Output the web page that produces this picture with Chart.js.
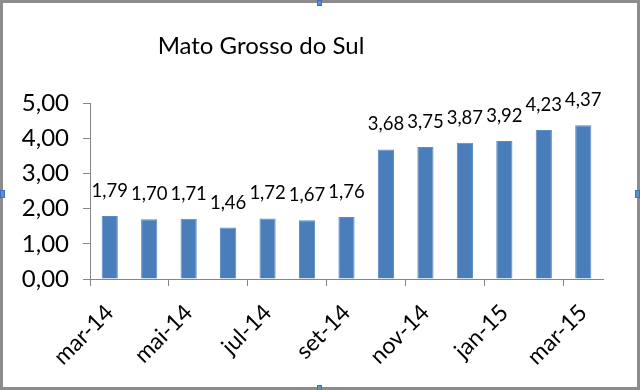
<!DOCTYPE html>
<html>
<head>
<meta charset="utf-8">
<script src="https://cdn.jsdelivr.net/npm/chart.js@4"></script>
<style>
    body { margin: 0; background: #fff; }
    #wrap { position: relative; width: 640px; height: 390px; }
    #frame {
        position: absolute; left: 0; top: 0; width: 640px; height: 390px;
        box-sizing: border-box; border: 3px solid #8c8c8c; pointer-events: none;
    }
    .handle {
        position: absolute; width: 5px; height: 6px; background: #5b8fd6;
        border: 1px solid #3f6fb5; box-sizing: border-box;
    }
</style>
</head>
<body>
<div id="wrap">
    <canvas id="mgsChart" width="640" height="390"></canvas>
    <div id="frame"></div>
    <div class="handle" style="left:317px;top:0px;"></div>
    <div class="handle" style="left:0px;top:190px;width:5px;height:8px;"></div>
    <div class="handle" style="left:635px;top:190px;width:5px;height:8px;"></div>
    <div class="handle" style="left:317px;top:385px;"></div>
</div>
<script>
const chartTitle = 'Mato Grosso do Sul';
const months = ['mar-14', 'abr-14', 'mai-14', 'jun-14', 'jul-14', 'ago-14', 'set-14',
                'out-14', 'nov-14', 'dez-14', 'jan-15', 'fev-15', 'mar-15'];
const values = [1.79, 1.70, 1.71, 1.46, 1.72, 1.67, 1.76, 3.68, 3.75, 3.87, 3.92, 4.23, 4.37];
const yTicks = [0, 1, 2, 3, 4, 5];

const fmt = v => v.toFixed(2).replace('.', ',');

// data labels above each bar (Excel "outside end") + title sitting left of centre
const barLabels = {
    id: 'barLabels',
    afterDatasetsDraw(chart) {
        const ctx = chart.ctx;
        const meta = chart.getDatasetMeta(0);
        ctx.save();
        ctx.font = '18.5px Lato';
        ctx.fillStyle = '#000000';
        ctx.textAlign = 'center';
        ctx.textBaseline = 'middle';
        meta.data.forEach((bar, i) => {
            ctx.fillText(fmt(values[i]), bar.x, bar.y - 25);
        });
        ctx.font = '24px Lato';
        ctx.fillText(chartTitle, 261, 46);
        ctx.restore();
    }
};

const axisGrey = '#868686';

new Chart(document.getElementById('mgsChart').getContext('2d'), {
    type: 'bar',
    data: {
        labels: months,
        datasets: [{
            label: chartTitle,
            data: values,
            backgroundColor: '#4a7ebb',
            borderColor: '#5b8bc6',
            borderWidth: 1,
            barPercentage: 0.82,
            categoryPercentage: 0.5
        }]
    },
    options: {
        responsive: false,
        animation: false,
        layout: { padding: { left: 0, right: 37, top: 103, bottom: 0 } },
        plugins: {
            legend: { display: false },
            tooltip: { enabled: false },
            title: { display: false }
        },
        scales: {
            x: {
                offset: true,
                grid: {
                    offset: true,
                    drawOnChartArea: false,
                    drawTicks: true,
                    tickLength: 7,
                    color: c => (c.index % 2 === 0 ? axisGrey : 'rgba(0,0,0,0)')
                },
                border: { display: true, color: axisGrey, width: 1 },
                ticks: {
                    autoSkip: false,
                    maxRotation: 45,
                    minRotation: 45,
                    padding: 13,
                    color: '#000000',
                    font: { family: 'Lato', size: 23 },
                    callback: (v, i) => (i % 2 === 0 ? months[i] : '')
                },
                afterFit: s => { s.height = 111; }
            },
            y: {
                min: 0,
                max: 5,
                afterBuildTicks: s => { s.ticks = yTicks.map(v => ({ value: v })); },
                grid: {
                    drawOnChartArea: false,
                    drawTicks: true,
                    tickLength: 7,
                    color: axisGrey
                },
                border: { display: true, color: axisGrey, width: 1 },
                ticks: {
                    padding: 14,
                    color: '#000000',
                    font: { family: 'Lato', size: 24 },
                    callback: v => fmt(v)
                },
                afterFit: s => { s.width = 90; }
            }
        }
    },
    plugins: [barLabels]
});
</script>
</body>
</html>
